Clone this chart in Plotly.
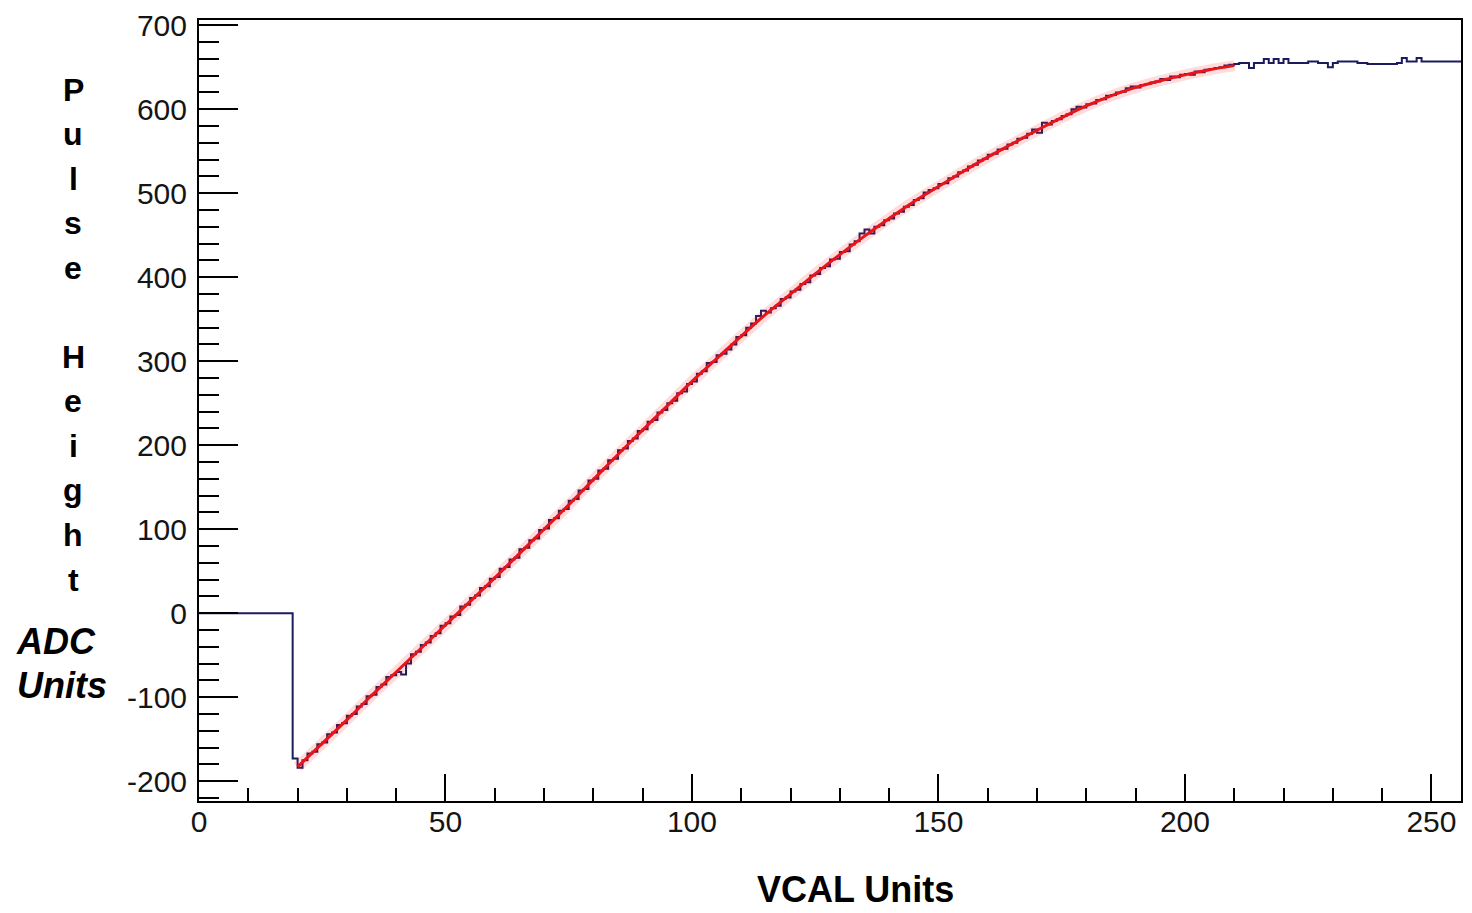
import plotly.graph_objects as go

# ---- histogram: pulse height per VCAL bin (bins 0..255, width 1) ----
bin_edges = list(range(0, 257))
pulse_height = (
    [0] * 19
    + [-173, -184, -175, -167, -165, -156, -154, -144, -142, -133, -131,
       -122, -120, -111, -108, -99, -97, -88, -85, -76, -74,
       -70, -73, -60, -49, -46, -38, -35, -27, -24, -15,
       -12, -4, -2, 8, 10, 18, 21, 30, 32, 41,
       43, 53, 55, 64, 66, 76, 78, 87, 89, 99,
       101, 111, 113, 122, 124, 134, 136, 146, 148, 158,
       160, 170, 172, 182, 184, 194, 196, 205, 208, 217,
       219, 228, 230, 239, 242, 250, 253, 262, 264, 273,
       276, 285, 288, 298, 299, 307, 309, 314, 320, 329,
       331, 340, 345, 354, 360, 358, 363, 366, 374, 376,
       383, 385, 392, 394, 402, 404, 411, 413, 421, 422,
       430, 431, 439, 443, 452, 457, 452, 460, 462, 468,
       470, 476, 478, 484, 486, 492, 494, 501, 504, 506,
       511, 512, 518, 520, 525, 527, 532, 534, 539, 541,
       546, 547, 552, 553, 558, 560, 565, 566, 571, 576,
       572, 584, 582, 586, 588, 592, 594, 600, 603, 602,
       606, 607, 611, 612, 616, 617, 620, 621, 625, 627,
       626, 629, 630, 632, 633, 636, 635, 639, 638, 641,
       642, 641, 645, 644, 647, 648, 649, 650, 652, 653,
       654, 655, 655, 649, 655, 655, 660, 655, 660, 655,
       660, 655, 655, 655, 655, 657, 657, 655, 655, 650,
       655, 657, 657, 657, 657, 655, 655, 654, 654, 654,
       654, 654, 654, 655, 661, 657, 657, 661, 657, 657,
       657, 657, 657, 657, 657, 657, 657]
)

# ---- fitted response curve (VCAL -> ADC) ----
fit_vcal = [20, 25, 30, 35, 40, 45, 50, 55, 60, 65, 70, 75, 80, 85, 90,
            95, 100, 105, 110, 115, 120, 125, 130, 135, 140, 145, 150,
            155, 160, 165, 170, 175, 180, 185, 190, 195, 200, 205, 210]
fit_adc = [-183, -155, -127, -98, -70, -42, -14, 14, 42, 71, 100, 129, 159,
           189, 218, 247, 276, 303, 330, 356, 380, 404, 427, 449, 470, 490,
           508, 526, 543, 559, 575, 590, 604, 616, 626, 634, 641, 647, 652]

# ---- axis ticks ----
x_tick_vals = [0, 50, 100, 150, 200, 250]
x_tick_text = ["0", "50", "100", "150", "200", "250"]
y_tick_vals = [-200, -100, 0, 100, 200, 300, 400, 500, 600, 700]
y_tick_text = ["-200", "-100", "0", "100", "200", "300", "400", "500",
               "600", "700"]
x_range = [0, 256]
y_range = [-223.6, 706.3]

W, H = 1472, 913
L, R, T, B = 199, 9, 17, 112
plot_w, plot_h = W - L - R, H - T - B


def px_to_paper_x(px):
    return (px - L) / plot_w


def px_to_paper_y(py):
    return (H - B - py) / plot_h


FONT = "Liberation Sans, Arial, Helvetica, sans-serif"

fig = go.Figure()

# step histogram
fig.add_trace(go.Scatter(
    x=bin_edges,
    y=pulse_height + [pulse_height[-1]],
    mode="lines",
    line=dict(color="#1b1b5e", width=2, shape="hv"),
    hoverinfo="skip",
    showlegend=False,
))

# soft glow around the fit line
fig.add_trace(go.Scatter(
    x=fit_vcal, y=fit_adc, mode="lines",
    line=dict(color="rgba(255,40,40,0.16)", width=11, shape="spline"),
    hoverinfo="skip", showlegend=False,
))
# fit line
fig.add_trace(go.Scatter(
    x=fit_vcal, y=fit_adc, mode="lines",
    line=dict(color="#e8141a", width=3, shape="spline"),
    hoverinfo="skip", showlegend=False,
))

axis_common = dict(
    showline=True, linecolor="black", linewidth=2, mirror=True,
    ticks="inside", tickcolor="black", tickwidth=2,
    showgrid=False, zeroline=False,
    tickfont=dict(family=FONT, size=30, color="#151515"),
)

fig.update_xaxes(
    range=x_range, tickmode="array",
    tickvals=x_tick_vals, ticktext=x_tick_text, ticklen=27,
    minor=dict(ticks="inside", dtick=10, tick0=0, ticklen=13,
               tickwidth=2, tickcolor="black", showgrid=False),
    ticklabelstandoff=-7,
    **axis_common,
)
fig.update_yaxes(
    range=y_range, tickmode="array",
    tickvals=y_tick_vals, ticktext=y_tick_text, ticklen=39,
    minor=dict(ticks="inside", dtick=20, tick0=0, ticklen=20,
               tickwidth=2, tickcolor="black", showgrid=False),
    ticklabelstandoff=4,
    **axis_common,
)

annotations = []

# x-axis title
annotations.append(dict(
    text="<b>VCAL Units</b>", xref="paper", yref="paper",
    x=px_to_paper_x(857), y=px_to_paper_y(912),
    xanchor="center", yanchor="bottom", showarrow=False,
    font=dict(family=FONT, size=36, color="black"),
))

# vertical, letter-stacked y-axis title
y_title_letters = ["P", "u", "l", "s", "e", "", "H", "e", "i", "g", "h", "t"]
for k, ch in enumerate(y_title_letters):
    if not ch:
        continue
    annotations.append(dict(
        text=f"<b>{ch}</b>", xref="paper", yref="paper",
        x=px_to_paper_x(73), y=px_to_paper_y(87 + k * 44.7),
        xanchor="center", yanchor="middle", showarrow=False,
        font=dict(family=FONT, size=32, color="black"),
    ))

unit_lines = [("ADC", 56, 641), ("Units", 62, 685)]
for word, cx, cy in unit_lines:
    annotations.append(dict(
        text=f"<b><i>{word}</i></b>", xref="paper", yref="paper",
        x=px_to_paper_x(cx), y=px_to_paper_y(cy),
        xanchor="center", yanchor="middle", showarrow=False,
        font=dict(family=FONT, size=36, color="black"),
    ))

fig.update_layout(
    width=W, height=H,
    margin=dict(l=L, r=R, t=T, b=B, pad=0),
    paper_bgcolor="white", plot_bgcolor="white",
    annotations=annotations,
    showlegend=False,
)

fig.write_html("out.html", config={"displayModeBar": False})
